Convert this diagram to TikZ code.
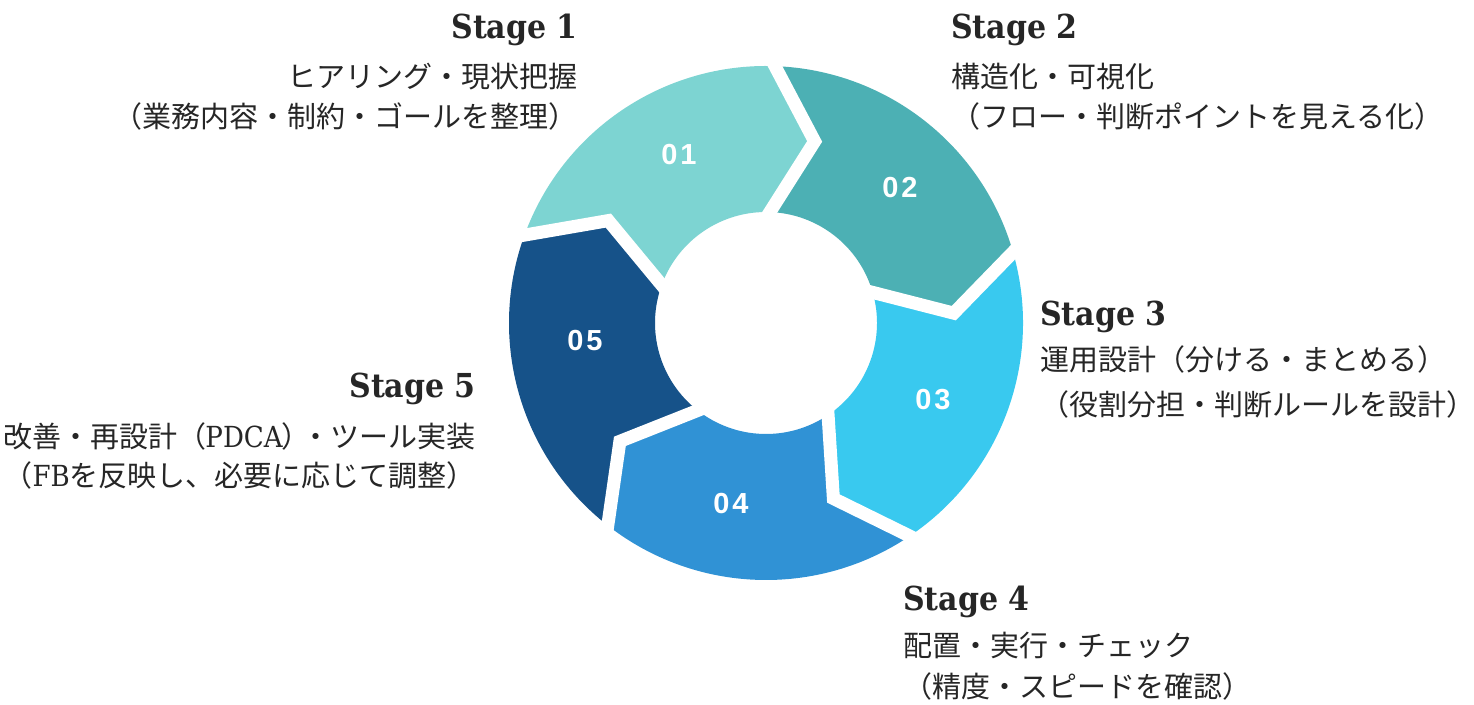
\documentclass[tikz,border=0pt]{standalone}
\usepackage{fontspec}
\setmainfont{DejaVu Serif}
\newfontfamily\headfont{DejaVu Serif}[FakeStretch=0.91]
\newfontfamily\latfont{DejaVu Serif}[FakeStretch=0.9]
\newfontfamily\jpfont{Noto Sans CJK JP}
\newfontfamily\numfont{Liberation Sans}[LetterSpace=10]
\usetikzlibrary{calc}
\definecolor{cA}{HTML}{7DD4D2}
\definecolor{cB}{HTML}{4CB0B4}
\definecolor{cC}{HTML}{39C9EF}
\definecolor{cD}{HTML}{3092D5}
\definecolor{cE}{HTML}{165289}
\definecolor{txt}{HTML}{262626}
\begin{document}
\begin{tikzpicture}[x=1pt,y=1pt,
  heading/.style={font=\headfont\bfseries\fontsize{33}{33}\selectfont, text=txt, inner sep=0pt},
  desc/.style={font=\jpfont\fontsize{29}{29}\selectfont, text=txt, inner sep=0pt},
  num/.style={font=\numfont\bfseries\fontsize{29}{29}\selectfont, text=white, inner sep=0pt},
  gapline/.style={draw=white, line width=13pt, line join=miter, miter limit=20}]
\useasboundingbox (0,0) rectangle (1474,704);
\fill[white] (0,0) rectangle (1474,704);
\begin{scope}[shift={(766,381)}]
  % segments: tail angle -> head angle (clockwise)
  \foreach \a/\col in {160/cA, 88/cB, 16/cC, -56/cD, -128/cE}{
    \pgfmathsetmacro{\b}{\a-72}
    \pgfmathsetmacro{\bt}{\a-72-13}
    \pgfmathsetmacro{\at}{\a-13}
    \fill[\col] (\a:257) arc[start angle=\a, end angle=\b, radius=257]
      -- (\bt:188) -- (\b:111) arc[start angle=\b, end angle=\a, radius=111]
      -- (\at:188) -- cycle;
  }
  % white gaps between segments
  \foreach \a [count=\i] in {160, 88, 16, -56, -128}{
    \pgfmathsetmacro{\at}{\a-13}
    \coordinate (o\i) at (\a:257);
    \coordinate (t\i) at (\at:188);
    \coordinate (w\i) at (\a:111);
    \draw[gapline] ($(t\i)!1.35!(o\i)$) -- (t\i) -- ($(t\i)!1.35!(w\i)$);
  }
  \node[num] (n1) at (-87,168) {01};
  \node[num] (n2) at (134,135) {02};
  \node[num] (n3) at (167,-77) {03};
  \node[num] (n4) at (-35,-181) {04};
  \node[num] (n5) at (-181,-18) {05};
\end{scope}
% Stage 1
\node[heading, anchor=base east] (h1) at (578,665) {Stage 1};
\node[desc, anchor=base east] (a1) at (578,616) {ヒアリング・現状把握};
\node[desc, anchor=base east] (b1) at (578,576) {（業務内容・制約・ゴールを整理）};
% Stage 2
\node[heading, anchor=base west] (h2) at (951,665) {Stage 2};
\node[desc, anchor=base west] (a2) at (951,616) {構造化・可視化};
\node[desc, anchor=base west] (b2) at (951,576) {（フロー・判断ポイントを見える化）};
% Stage 3
\node[heading, anchor=base west] (h3) at (1040,378) {Stage 3};
\node[desc, anchor=base west] (a3) at (1040,333) {運用設計（分ける・まとめる）};
\node[desc, anchor=base west] (b3) at (1040,288) {（役割分担・判断ルールを設計）};
% Stage 4
\node[heading, anchor=base west] (h4) at (903,94) {Stage 4};
\node[desc, anchor=base west] (a4) at (903,48) {配置・実行・チェック};
\node[desc, anchor=base west] (b4) at (903,7) {（精度・スピードを確認）};
% Stage 5
\node[heading, anchor=base east] (h5) at (476,306) {Stage 5};
\node[desc, anchor=base east] (a5) at (476,256) {改善・再設計（{\latfont\kern-1pt PDCA\kern-1pt}）\kern-9pt・ツール実装};
\node[desc, anchor=base east] (b5) at (476,217) {（{\latfont FB}を反映し、必要に応じて調整）};
\end{tikzpicture}
\end{document}
